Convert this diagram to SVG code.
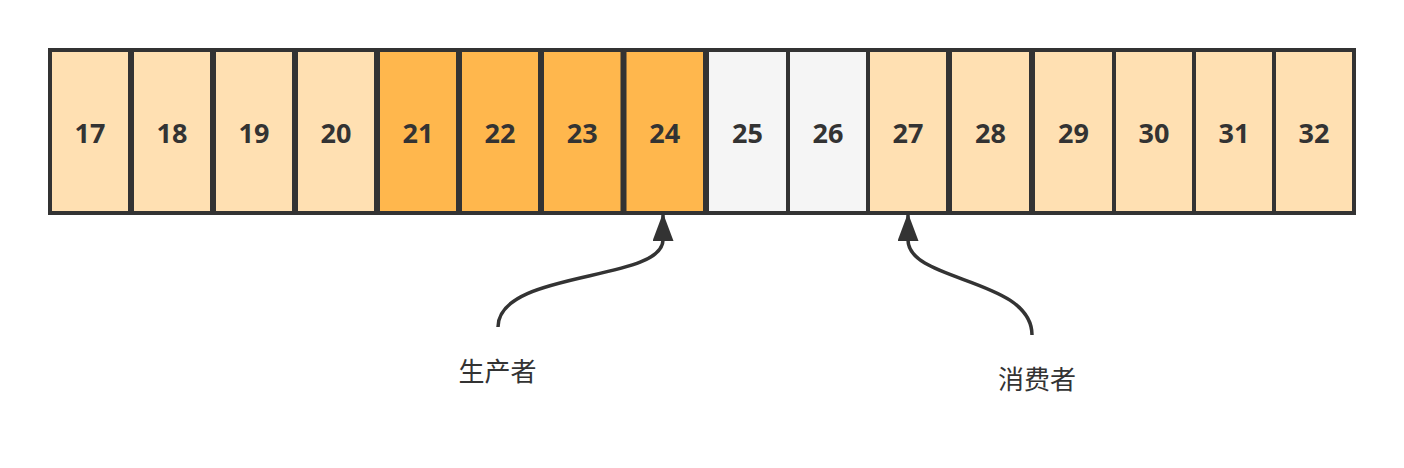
<svg xmlns="http://www.w3.org/2000/svg" width="1404" height="468" viewBox="0 0 1404 468">
  <style>
    .cell { stroke: #333333; stroke-width: 4; }
    .light { fill: #FFE0B2; }
    .orange { fill: #FFB74D; }
    .gray { fill: #F5F5F5; }
    .num { font-family: "Open Sans", "Noto Sans", sans-serif; font-weight: bold; font-size: 27px; fill: #333333; text-anchor: middle; }
    .label { font-family: "Noto Sans CJK SC", sans-serif; font-size: 26px; fill: #333333; text-anchor: middle; }
    .edge { fill: none; stroke: #333333; stroke-width: 3.5; }
  </style>
  <defs>
    <marker id="arrow" markerUnits="userSpaceOnUse" markerWidth="30" markerHeight="22" refX="28" refY="10.5" orient="auto">
      <path d="M0,0 L28,10.5 L0,21 z" fill="#333333"/>
    </marker>
  </defs>
  <rect width="1404" height="468" fill="#ffffff"/>
  <g id="cell-17"><rect class="cell light" x="50" y="50" width="80" height="163"/><text class="num" x="90" y="142.5">17</text></g>
  <g id="cell-18"><rect class="cell light" x="132" y="50" width="80" height="163"/><text class="num" x="172" y="142.5">18</text></g>
  <g id="cell-19"><rect class="cell light" x="214" y="50" width="80" height="163"/><text class="num" x="254" y="142.5">19</text></g>
  <g id="cell-20"><rect class="cell light" x="296" y="50" width="80" height="163"/><text class="num" x="336" y="142.5">20</text></g>
  <g id="cell-21"><rect class="cell orange" x="378" y="50" width="80" height="163"/><text class="num" x="418" y="142.5">21</text></g>
  <g id="cell-22"><rect class="cell orange" x="460" y="50" width="80" height="163"/><text class="num" x="500" y="142.5">22</text></g>
  <g id="cell-23"><rect class="cell orange" x="542" y="50" width="80.5" height="163"/><text class="num" x="582.25" y="142.5">23</text></g>
  <g id="cell-24"><rect class="cell orange" x="624.5" y="50" width="80.5" height="163"/><text class="num" x="664.75" y="142.5">24</text></g>
  <g id="cell-25"><rect class="cell gray" x="707" y="50" width="81" height="163"/><text class="num" x="747.5" y="142.5">25</text></g>
  <g id="cell-26"><rect class="cell gray" x="788" y="50" width="80" height="163"/><text class="num" x="828" y="142.5">26</text></g>
  <g id="cell-27"><rect class="cell light" x="868" y="50" width="80" height="163"/><text class="num" x="908" y="142.5">27</text></g>
  <g id="cell-28"><rect class="cell light" x="950" y="50" width="81" height="163"/><text class="num" x="990.5" y="142.5">28</text></g>
  <g id="cell-29"><rect class="cell light" x="1033" y="50" width="81" height="163"/><text class="num" x="1073.5" y="142.5">29</text></g>
  <g id="cell-30"><rect class="cell light" x="1114" y="50" width="80" height="163"/><text class="num" x="1154" y="142.5">30</text></g>
  <g id="cell-31"><rect class="cell light" x="1194" y="50" width="80" height="163"/><text class="num" x="1234" y="142.5">31</text></g>
  <g id="cell-32"><rect class="cell light" x="1274" y="50" width="80" height="163"/><text class="num" x="1314" y="142.5">32</text></g>
  <g id="connectors">
    <path class="edge" d="M 498 327 C 498 270, 663 282, 663 240 L 663 213" marker-end="url(#arrow)"/>
    <path class="edge" d="M 1032 335 C 1032 278, 908 282, 908 240 L 908 213" marker-end="url(#arrow)"/>
  </g>
  <g id="label-producer"><text class="label" x="497.5" y="381">生产者</text></g>
  <g id="label-consumer"><text class="label" x="1037" y="389">消费者</text></g>
</svg>
